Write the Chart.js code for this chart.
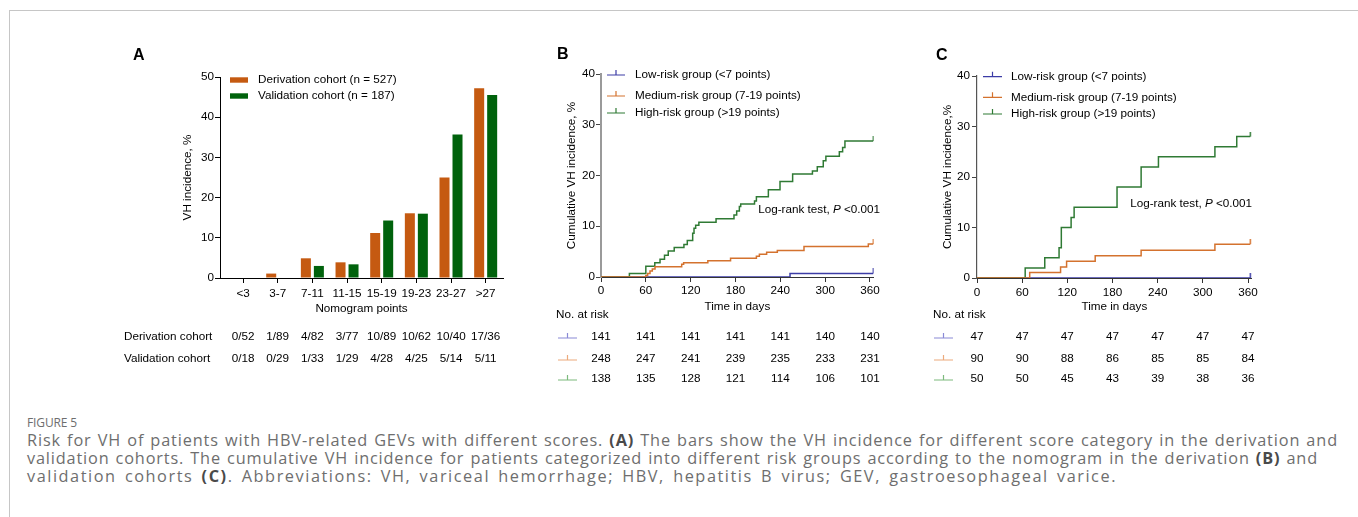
<!DOCTYPE html>
<html><head><meta charset="utf-8">
<script src="https://cdn.jsdelivr.net/npm/chart.js@4.4.1/dist/chart.umd.min.js"></script>
<style>
html,body{margin:0;padding:0;background:#fff;width:1358px;height:517px;overflow:hidden;position:relative;}
.cv{position:absolute;}
#frameTop{position:absolute;left:9px;top:10px;width:1349px;height:0;border-top:1px solid #c6c6c6;}
#frameLeft{position:absolute;left:9px;top:10px;width:0;height:507px;border-left:1px solid #c6c6c6;}
.cap{position:absolute;left:27px;font-family:"Open Sans",sans-serif;color:#6e6e6e;white-space:nowrap;display:inline-block;}
.cap b{color:#4a4a4a;font-weight:700;}
#figlab{font-size:12px;line-height:14px;top:416px;}
.line{font-size:16.3px;line-height:18px;font-weight:400;}
</style></head><body>
<div id="frameTop"></div><div id="frameLeft"></div>
<canvas id="cA" class="cv" width="420" height="345" style="left:110px;top:40px;width:420px;height:345px"></canvas>
<canvas id="cB" class="cv" width="360" height="345" style="left:540px;top:40px;width:360px;height:345px"></canvas>
<canvas id="cC" class="cv" width="360" height="345" style="left:920px;top:40px;width:360px;height:345px"></canvas>
<div class="cap" id="figlab">FIGURE 5</div>
<div class="cap line" id="l1" style="top:431px">Risk for VH of patients with HBV-related GEVs with different scores. <b>(A)</b> The bars show the VH incidence for different score category in the derivation and</div>
<div class="cap line" id="l2" style="top:449px">validation cohorts. The cumulative VH incidence for patients categorized into different risk groups according to the nomogram in the derivation <b>(B)</b> and</div>
<div class="cap line" id="l3" style="top:467px">validation cohorts <b>(C)</b>. Abbreviations: VH, variceal hemorrhage; HBV, hepatitis B virus; GEV, gastroesophageal varice.</div>
<script>
// ---------------- DATA ----------------
const categoriesA = ['<3','3-7','7-11','11-15','15-19','19-23','23-27','>27'];
const derivationPct = [0, 1.1, 4.9, 3.9, 11.2, 16.1, 25.0, 47.2];
const validationPct = [0, 0, 3.0, 3.4, 14.3, 16.0, 35.7, 45.5];
const derivationCounts = ['0/52','1/89','4/82','3/77','10/89','10/62','10/40','17/36'];
const validationCounts = ['0/18','0/29','1/33','1/29','4/28','4/25','5/14','5/11'];
const cohortLegend = ['Derivation cohort (n = 527)','Validation cohort (n = 187)'];
const tableRowNames = ['Derivation cohort','Validation cohort'];

const riskGroups = ['Low-risk group (<7 points)','Medium-risk group (7-19 points)','High-risk group (>19 points)'];
const timeTicks = [0,60,120,180,240,300,360];

// Panel B (derivation) step curves: event day, cumulative incidence %
const bLowDays  = [0, 253, 364.4];
const bLowVals  = [0, 0.71, 0.71];
const bMedDays  = [0, 60, 62.4, 65.6, 68.7, 72.3, 108, 110.6, 143, 173.4, 208, 212, 221.7, 236, 271.7, 357.8, 364.4];
const bMedVals  = [0, 0.3, 0.7, 1.2, 1.6, 2.0, 2.5, 2.8, 3.2, 3.7, 4.1, 4.5, 4.9, 5.2, 6.0, 6.5, 6.5];
const bHighDays = [0, 38, 60, 72, 79, 85, 90, 98, 111, 115.5, 122.7, 124.5, 126.7, 131, 154, 178, 181.6, 185.2, 187, 205.5, 208, 224, 239.6, 256.5, 283, 289.5, 297.5, 301, 319, 323.4, 326.5, 364.4];
const bHighVals = [0, 0.7, 2.1, 2.8, 3.5, 4.3, 5.1, 5.8, 6.4, 7.2, 8.6, 9.6, 10.2, 10.8, 11.5, 12.2, 13.0, 13.9, 14.4, 15.0, 15.8, 17.2, 18.8, 20.3, 20.9, 21.7, 22.9, 23.8, 24.7, 25.5, 26.8, 26.8];
const bAtRiskLow  = [141,141,141,141,141,140,140];
const bAtRiskMed  = [248,247,241,239,235,233,231];
const bAtRiskHigh = [138,135,128,121,114,106,101];

// Panel C (validation)
const cLowDays  = [0, 363];
const cLowVals  = [0, 0];
const cMedDays  = [0, 70, 111, 119, 157, 218, 316, 363];
const cMedVals  = [0, 1.1, 2.2, 3.3, 4.4, 5.5, 6.7, 6.7];
const cHighDays = [0, 64, 90, 109, 112, 125, 129, 186, 218, 241, 316, 345, 363];
const cHighVals = [0, 2, 4, 6, 10, 12, 14, 18, 22, 24, 26, 28, 28];
const cAtRiskLow  = [47,47,47,47,47,47,47];
const cAtRiskMed  = [90,90,88,86,85,85,84];
const cAtRiskHigh = [50,50,45,43,39,38,36];

// ---------------- STYLE ----------------
const FONT = '"Liberation Sans", Arial, Helvetica, sans-serif';
const FS = 11.7;
Chart.defaults.font.family = FONT;
Chart.defaults.font.size = FS;
Chart.defaults.color = '#000';
const COL_LOW = '#3c3ca6', COL_MED = '#d4722e', COL_HIGH = '#2f7a34';
const COL_LOW_L = '#8a8ad6', COL_MED_L = '#ecaa7c', COL_HIGH_L = '#7dba7d';

function xy(days, vals){ return days.map((d,i)=>({x:d, y:vals[i]})); }
function tickImg(color){
  const c = document.createElement('canvas'); c.width = 3; c.height = 10;
  const g = c.getContext('2d'); g.strokeStyle = color; g.lineWidth = 1.5;
  g.beginPath(); g.moveTo(1.5,0); g.lineTo(1.5,5); g.stroke(); return c;
}
function kmDataset(label, days, vals, color, order){
  const n = days.length;
  return {label, data: xy(days, vals), borderColor: color, borderWidth: 1.5, stepped: true,
    fill:false, order, pointStyle: tickImg(color),
    pointRadius: ctx => ctx.dataIndex === n-1 ? 3 : 0, pointHoverRadius: 0};
}
function marker(ctx, x0, x1, y, color){
  ctx.strokeStyle = color; ctx.lineWidth = 1.2;
  ctx.beginPath(); ctx.moveTo(x0, y); ctx.lineTo(x1, y);
  const m = (x0+x1)/2; ctx.moveTo(m, y); ctx.lineTo(m, y-5); ctx.stroke();
}

// ---------------- PANEL A ----------------
const plugA = { id:'panelA', afterDraw(chart){
  const {ctx, chartArea:ca, scales:{x}} = chart;
  ctx.save();
  ctx.font = 'bold 16px ' + FONT; ctx.fillStyle = '#000'; ctx.textAlign = 'left'; ctx.textBaseline = 'alphabetic';
  ctx.fillText('A', 23, 20);
  ctx.font = FS + 'px ' + FONT; ctx.textBaseline = 'middle';
  chart.data.datasets.forEach((ds,i)=>{
    const yy = ca.top + 3 + i*16;
    ctx.fillStyle = ds.backgroundColor; ctx.fillRect(ca.left+10, yy-2.7, 18, 5.4);
    ctx.fillStyle = '#000'; ctx.fillText(ds.label, ca.left+38, yy);
  });
  [derivationCounts, validationCounts].forEach((row,i)=>{
    const yy = 297 + i*22;
    ctx.textAlign = 'left'; ctx.fillText(tableRowNames[i], 14, yy);
    ctx.textAlign = 'center';
    row.forEach((t,j)=> ctx.fillText(t, x.getPixelForValue(j), yy));
  });
  ctx.restore();
}};

new Chart(document.getElementById('cA'), {
  type:'bar',
  data:{labels:categoriesA, datasets:[
    {label:cohortLegend[0], data:derivationPct, backgroundColor:'#C55A11'},
    {label:cohortLegend[1], data:validationPct, backgroundColor:'#00620C'}
  ]},
  options:{responsive:false, animation:false, devicePixelRatio:1,
    layout:{padding:{left:0, top:37, right:27, bottom:67}},
    plugins:{legend:{display:false}, tooltip:{enabled:false}},
    datasets:{bar:{categoryPercentage:0.75, barPercentage:0.77}},
    scales:{
      x:{grid:{drawOnChartArea:false, offset:false, tickLength:5, color:'#000'},
         border:{color:'#000', width:1},
         ticks:{padding:3.5, maxRotation:0, autoSkip:false, color:'#000'},
         title:{display:true, text:'Nomogram points', color:'#000', padding:{top:0, bottom:2}},
         afterBuildTicks: s => { s._startValue -= 0.165; s._valueRange += 0.165; },
         afterFit: s => { s.height = 40; }},
      y:{min:0, max:50, ticks:{stepSize:10, padding:1, color:'#000'},
         grid:{drawOnChartArea:false, tickLength:5, color:'#000'},
         border:{color:'#000', width:1},
         title:{display:true, text:'VH incidence, %', color:'#000', padding:{top:71, bottom:0}},
         afterFit: s => { s.width = 110; }}
    }
  },
  plugins:[plugA]
});

// ---------------- KM PANELS ----------------
function kmPlugin(cfg){
  return { id:'km'+cfg.letter, afterDraw(chart){
    const {ctx, chartArea:ca, scales:{x}} = chart;
    ctx.save();
    ctx.font = 'bold 16px ' + FONT; ctx.fillStyle = '#000'; ctx.textAlign = 'left'; ctx.textBaseline = 'alphabetic';
    ctx.fillText(cfg.letter, cfg.letterX, cfg.letterY);
    ctx.font = FS + 'px ' + FONT; ctx.textBaseline = 'middle';
    const cols = [COL_LOW, COL_MED, COL_HIGH];
    riskGroups.forEach((g,i)=>{
      const yy = cfg.legendY[i];
      marker(ctx, ca.left + cfg.legMk0, ca.left + cfg.legMk1, yy, cols[i]);
      ctx.fillStyle = '#000'; ctx.fillText(g, ca.left + cfg.legText, yy);
    });
    const p1 = 'Log-rank test, ', p2 = 'P', p3 = ' <0.001';
    const w1 = ctx.measureText(p1).width, w3 = ctx.measureText(p3).width;
    ctx.font = 'italic ' + FS + 'px ' + FONT; const w2 = ctx.measureText(p2).width;
    let xx = cfg.lrRight - (w1 + w2 + w3);
    ctx.font = FS + 'px ' + FONT; ctx.fillText(p1, xx, cfg.lrY); xx += w1;
    ctx.font = 'italic ' + FS + 'px ' + FONT; ctx.fillText(p2, xx, cfg.lrY); xx += w2;
    ctx.font = FS + 'px ' + FONT; ctx.fillText(p3, xx, cfg.lrY);
    ctx.fillText('No. at risk', cfg.nrX, cfg.nrY);
    const lcols = [COL_LOW_L, COL_MED_L, COL_HIGH_L];
    cfg.atRisk.forEach((row,i)=>{
      const yy = cfg.rowY[i];
      marker(ctx, cfg.rowMk0, cfg.rowMk1, yy+1, lcols[i]);
      ctx.fillStyle = '#000'; ctx.textAlign = 'center';
      row.forEach((v,j)=> ctx.fillText(String(v), x.getPixelForValue(timeTicks[j]), yy));
      ctx.textAlign = 'left';
    });
    ctx.restore();
  }};
}

function kmChart(id, sets, yTitle, geo, plugin){
  return new Chart(document.getElementById(id), {
    type:'line',
    data:{datasets:[
      kmDataset(riskGroups[0], sets[0][0], sets[0][1], COL_LOW, 2),
      kmDataset(riskGroups[1], sets[1][0], sets[1][1], COL_MED, 0),
      kmDataset(riskGroups[2], sets[2][0], sets[2][1], COL_HIGH, 1)
    ]},
    options:{responsive:false, animation:false, devicePixelRatio:1,
      layout:{padding:geo.padding},
      plugins:{legend:{display:false}, tooltip:{enabled:false}},
      scales:{
        x:{type:'linear', min:0, max:365,
           afterBuildTicks: s => { s.ticks = timeTicks.map(v=>({value:v})); },
           ticks:{padding:geo.xTickPad, color:'#000', maxRotation:0, autoSkip:false},
           grid:{drawOnChartArea:false, tickLength:5, color:'#333'},
           border:{color:'#333', width:1},
           title:{display:true, text:'Time in days', color:'#000', padding:{top:0, bottom:geo.xTitlePad}},
           afterFit: s => { s.height = 40; }},
        y:{min:0, max:40, ticks:{stepSize:10, padding:geo.yTickPad, color:'#000'},
           grid:{drawOnChartArea:false, tickLength:5, color:'#444'},
           border:{color:geo.yBorderColor, width:geo.yBorderWidth},
           title:{display:true, text:yTitle, color:'#000', padding:{top:geo.yTitlePad, bottom:0}},
           afterFit: s => { s.width = geo.yWidth; }}
      }
    },
    plugins:[plugin]
  });
}

kmChart('cB', [[bLowDays,bLowVals],[bMedDays,bMedVals],[bHighDays,bHighVals]],
  'Cumulative VH incidence, %',
  {padding:{left:0, top:34, right:26.3, bottom:68}, xTickPad:1.8, xTitlePad:3, yTickPad:1,
   yTitlePad:24.7, yWidth:61, yBorderColor:'#9a9a9a', yBorderWidth:2},
  kmPlugin({letter:'B', letterX:17, letterY:19, legendY:[35,56,73], legMk0:6, legMk1:24, legText:34,
    lrRight:340, lrY:170, nrX:16, nrY:275, rowY:[297,319,339], rowMk0:18, rowMk1:37,
    atRisk:[bAtRiskLow, bAtRiskMed, bAtRiskHigh]}));

kmChart('cC', [[cLowDays,cLowVals],[cMedDays,cMedVals],[cHighDays,cHighVals]],
  'Cumulative VH incidence,%',
  {padding:{left:0, top:36, right:28.2, bottom:67}, xTickPad:2.5, xTitlePad:4.3, yTickPad:2,
   yTitlePad:20.3, yWidth:57, yBorderColor:'#555', yBorderWidth:1.2},
  kmPlugin({letter:'C', letterX:16, letterY:20, legendY:[36.7,57.3,74], legMk0:6, legMk1:25, legText:34,
    lrRight:332, lrY:164, nrX:13, nrY:275, rowY:[297,319,339], rowMk0:14, rowMk1:33,
    atRisk:[cAtRiskLow, cAtRiskMed, cAtRiskHigh]}));

// ---------------- caption fitting ----------------
function fitCaption(){
  const targets = {figlab:50, l1:1311, l2:1291, l3:1090};
  Object.keys(targets).forEach(id=>{
    const el = document.getElementById(id);
    el.style.letterSpacing = '0px'; el.style.wordSpacing = '0px';
    const w = el.getBoundingClientRect().width;
    const txt = el.textContent;
    const n = txt.length;
    const spaces = (txt.match(/ /g) || []).length;
    const extra = targets[id] - w;
    if (spaces > 0) {
      el.style.letterSpacing = (extra * 0.85 / n) + 'px';
      el.style.wordSpacing = (extra * 0.15 / spaces) + 'px';
    } else {
      el.style.letterSpacing = (extra / n) + 'px';
    }
  });
}
fitCaption();
if (document.fonts && document.fonts.ready) document.fonts.ready.then(fitCaption);
</script>
</body></html>
